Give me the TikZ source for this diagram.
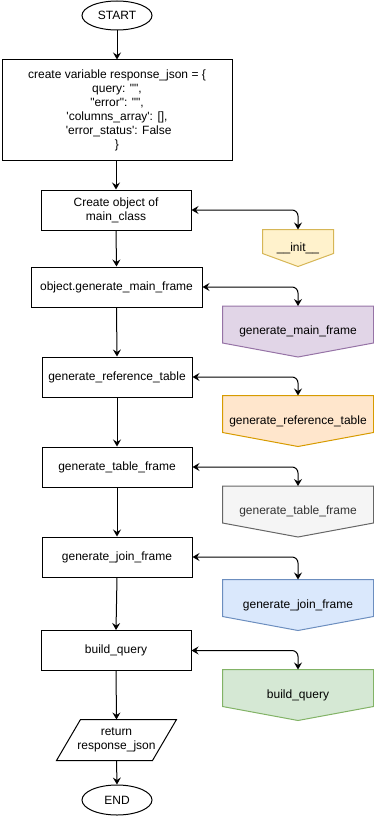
\documentclass[tikz,border=0pt]{standalone}
\usepackage{fontspec}
\setmainfont{Liberation Sans}
\usetikzlibrary{arrows.meta,shapes.geometric,calc,backgrounds}

\definecolor{yelFill}{HTML}{FFF2CC}\definecolor{yelLine}{HTML}{D6B656}
\definecolor{purFill}{HTML}{E1D5E7}\definecolor{purLine}{HTML}{9673A6}
\definecolor{oraFill}{HTML}{FFE6CC}\definecolor{oraLine}{HTML}{D79B00}
\definecolor{grayFill}{HTML}{F5F5F5}\definecolor{grayLine}{HTML}{666666}
\definecolor{grayText}{HTML}{333333}
\definecolor{bluFill}{HTML}{DAE8FC}\definecolor{bluLine}{HTML}{6C8EBF}
\definecolor{grnFill}{HTML}{D5E8D4}\definecolor{grnLine}{HTML}{82B366}

\begin{document}
\begin{tikzpicture}[x=1pt,y=-1pt,
  font=\fontsize{12}{14}\selectfont,
  line width=1pt,
  tip/.tip={Stealth[length=7pt,width=8pt,inset=2.5pt]},
  arr/.style={-tip},
  both/.style={tip-tip, rounded corners=6pt},
  stepbox/.style={draw, rectangle, align=center, inner sep=0pt,
    minimum width=150pt, minimum height=40pt},
  term/.style={draw, ellipse, inner sep=0pt, minimum width=70pt, minimum height=29pt},
  holder/.style={rectangle, inner sep=0pt, align=center,
    minimum width=150pt, minimum height=50pt},
  offp/.style={line width=1pt, line join=miter},
]
\useasboundingbox (0,0) rectangle (374,816);

% main column
\node[term] (start) at (117,15.5) {START};
\node[stepbox, minimum width=230pt, minimum height=100pt] (vars) at (117,110)
  {create variable response\_json = \{\\
   query: \textquotedbl\textquotedbl,\\
   \textquotedbl error\textquotedbl: \textquotedbl\textquotedbl,\\
   \textquotesingle columns\_array\textquotesingle: [],\\
   \ \textquotesingle error\_status\textquotesingle: False\\
   \}};
\node[stepbox] (cobj) at (116,210) {Create object of\\main\_class};
\node[stepbox, minimum width=171pt] (gmf) at (116.5,287) {object.generate\_main\_frame};
\node[stepbox] (grt) at (117,377) {generate\_reference\_table};
\node[stepbox] (gtf) at (117,467) {generate\_table\_frame};
\node[stepbox] (gjf) at (117,557) {generate\_join\_frame};
\node[stepbox] (bq)  at (116,650.5) {build\_query};
\node[holder, minimum width=119pt, minimum height=40pt] (ret) at (116.5,740)
  {return\\response\_json};
\node[term, minimum height=30pt] (end) at (117,800) {END};

% called methods (off-page connector shapes)
\node[holder, minimum width=70pt, minimum height=36pt] (rinit) at (298,248) {\_\_init\_\_};
\node[holder] (rgmf) at (298,331.5) {generate\_main\_frame};
\node[holder] (rgrt) at (298,421) {generate\_reference\_table};
\node[holder, text=grayText] (rgtf) at (298,511.5) {generate\_table\_frame};
\node[holder] (rgjf) at (298,605) {generate\_join\_frame};
\node[holder] (rbq)  at (298,695) {build\_query};

\begin{scope}[on background layer]
  \draw[offp, draw=yelLine, fill=yelFill] (rinit.north west) -- (rinit.north east)
    -- ([yshift=13pt]rinit.south east) -- (rinit.south) -- ([yshift=13pt]rinit.south west) -- cycle;
  \draw[offp, draw=purLine, fill=purFill] (rgmf.north west) -- (rgmf.north east)
    -- ([yshift=14pt]rgmf.south east) -- (rgmf.south) -- ([yshift=14pt]rgmf.south west) -- cycle;
  \draw[offp, draw=oraLine, fill=oraFill] (rgrt.north west) -- (rgrt.north east)
    -- ([yshift=14pt]rgrt.south east) -- (rgrt.south) -- ([yshift=14pt]rgrt.south west) -- cycle;
  \draw[offp, draw=grayLine, fill=grayFill] (rgtf.north west) -- (rgtf.north east)
    -- ([yshift=14pt]rgtf.south east) -- (rgtf.south) -- ([yshift=14pt]rgtf.south west) -- cycle;
  \draw[offp, draw=bluLine, fill=bluFill] (rgjf.north west) -- (rgjf.north east)
    -- ([yshift=14pt]rgjf.south east) -- (rgjf.south) -- ([yshift=14pt]rgjf.south west) -- cycle;
  \draw[offp, draw=grnLine, fill=grnFill] (rbq.north west) -- (rbq.north east)
    -- ([yshift=14pt]rbq.south east) -- (rbq.south) -- ([yshift=14pt]rbq.south west) -- cycle;
  % return parallelogram
  \draw[offp, fill=white] ([xshift=24pt]ret.north west) -- (ret.north east)
    -- ([xshift=-24pt]ret.south east) -- (ret.south west) -- cycle;
\end{scope}

% flow
\draw[arr] (start.south) -- (vars.north);
\draw[arr] (vars.south -| cobj.north) -- (cobj.north);
\draw[arr] (cobj.south) -- (gmf.north);
\draw[arr] (gmf.south) -- (grt.north);
\draw[arr] (grt.south) -- (gtf.north);
\draw[arr] (gtf.south) -- (gjf.north);
\draw[arr] (gjf.south) -- (bq.north);
\draw[arr] (bq.south) -- (ret.north);
\draw[arr] (ret.south) -- (end.north);

% calls
\draw[both] (cobj.east) -| (rinit.north);
\draw[both] (gmf.east) -| (rgmf.north);
\draw[both] (grt.east) -| (rgrt.north);
\draw[both] (gtf.east) -| (rgtf.north);
\draw[both] (gjf.east) -| (rgjf.north);
\draw[both] (bq.east) -| (rbq.north);
\end{tikzpicture}
\end{document}
